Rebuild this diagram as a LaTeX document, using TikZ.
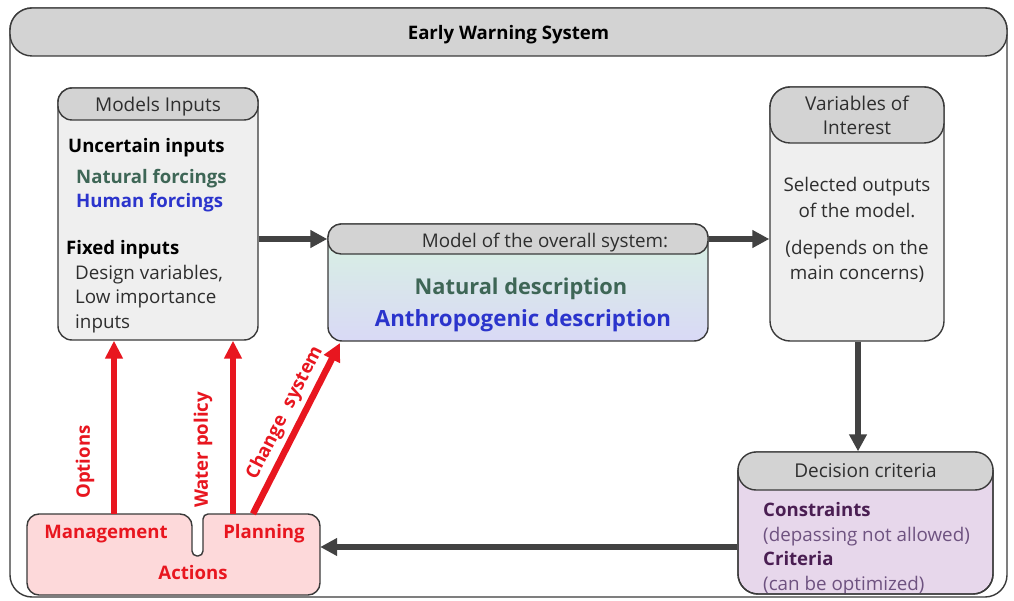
\documentclass[tikz,border=0pt]{standalone}
\usepackage{fontspec}
\setmainfont{Open Sans}
\usetikzlibrary{arrows.meta}
\definecolor{hdr}{HTML}{D3D3D3}
\definecolor{bodyg}{HTML}{EFEFEF}
\definecolor{edge}{HTML}{3A3A3A}
\definecolor{dkarr}{HTML}{424242}
\definecolor{redc}{HTML}{E8161F}
\definecolor{actfill}{HTML}{FDD9DA}
\definecolor{decfill}{HTML}{E7D7EB}
\definecolor{greent}{HTML}{3E6656}
\definecolor{bluet}{HTML}{2B34CC}
\definecolor{purpb}{HTML}{4A1E52}
\definecolor{purpl}{HTML}{6E5280}
\definecolor{grayt}{HTML}{2E2E2E}
\definecolor{topg}{HTML}{D8F3E0}
\definecolor{botb}{HTML}{D9D9F6}
\newcommand{\fs}[1]{\fontsize{#1}{#1}\selectfont}
\begin{document}
\begin{tikzpicture}[x=1pt,y=-1pt,
  box/.style={draw=edge, line width=1.4pt, rounded corners=#1, inner sep=0pt},
  box/.default=14pt,
  hdrbox/.style={draw=edge, line width=1.4pt, fill=hdr, rounded corners=#1, inner sep=0pt, text=grayt, font=\fs{19}, text depth=0pt},
  hdrbox/.default=14pt,
  txt/.style={inner sep=0pt, font=\fs{18.8}, text=grayt, text depth=0pt},
  btxt/.style={inner sep=0pt, font=\fs{18.6}\bfseries, text depth=0pt},
  darr/.style={draw=dkarr, line width=6.5pt, -{Triangle[length=17pt,width=17pt]}},
  rarr/.style={draw=redc, line width=6.5pt, -{Triangle[length=18pt,width=17pt]}},
  rlab/.style={inner sep=0pt, font=\fs{18.6}\bfseries, text=redc}
]
\useasboundingbox (0,0) rectangle (1014,601);
% outer frame
\node[box=22pt, fill=white, minimum width=997pt, minimum height=589pt] (ews) at (508.5,302.5) {};
\node[hdrbox=22pt, minimum width=997pt, minimum height=48pt, font=\fs{18.6}\bfseries, text=black] (ewsh) at (508.5,32) {Early Warning System};

% Models inputs
\node[box, fill=bodyg, minimum width=200pt, minimum height=252pt] (mi) at (158,214) {};
\node[hdrbox, minimum width=200pt, minimum height=32pt] (mih) at (158,104) {Models Inputs};
\node[btxt, anchor=west, text=black] (t1) at (68,145) {Uncertain inputs};
\node[btxt, anchor=west, text=greent] (t2) at (76,176) {Natural forcings};
\node[btxt, anchor=west, text=bluet] (t3) at (76,200) {Human forcings};
\node[btxt, anchor=west, text=black] (t4) at (66,247) {Fixed inputs};
\node[txt, anchor=west] (t5) at (75,272) {Design variables,};
\node[txt, anchor=west] (t6) at (75,297) {Low importance};
\node[txt, anchor=west] (t7) at (75,322) {inputs};

% Model of the overall system
\shade[top color=topg, bottom color=botb, rounded corners=14pt] (328,224) rectangle (708,341);
\node[box, minimum width=380pt, minimum height=117pt] (mo) at (518,282.5) {};
\node[hdrbox=13pt, minimum width=380pt, minimum height=30pt] (moh) at (518,239) {};
\node[txt] (t8) at (545,240) {Model of the overall system:};
\node[btxt, font=\fs{21.8}\bfseries, text=greent] (t9) at (521,286) {Natural description};
\node[btxt, font=\fs{22.3}\bfseries, text=bluet] (t10) at (523,318) {Anthropogenic description};

% Variables of interest
\node[box=20pt, fill=bodyg, minimum width=174pt, minimum height=254pt] (voi) at (857,214) {};
\node[hdrbox=20pt, minimum width=174pt, minimum height=56pt, align=center] (voih) at (857,115) {Variables of\\[5pt]Interest};
\node[txt, align=center] (t11) at (857,197) {Selected outputs\\[6pt]of the model.};
\node[txt, align=center] (t12) at (857,260) {(depends on the\\[6pt]main concerns)};

% Decision criteria
\node[box=20pt, fill=decfill, minimum width=255pt, minimum height=142pt] (dc) at (865.5,523) {};
\node[hdrbox=18pt, minimum width=255pt, minimum height=38pt] (dch) at (865.5,471) {Decision criteria};
\node[btxt, anchor=west, text=purpb] (t13) at (763,509) {Constraints};
\node[txt, anchor=west, text=purpl] (t14) at (763,534) {(depassing not allowed)};
\node[btxt, anchor=west, text=purpb] (t15) at (763,558) {Criteria};
\node[txt, anchor=west, text=purpl] (t16) at (763,583) {(can be optimized)};
\draw[draw=edge, line width=1.4pt, rounded corners=20pt] (738,470) -- (738,594) -- (993,594) -- (993,470);

% Actions
\coordinate (actc) at (173.5,554.5);
\node[inner sep=0pt, minimum width=293pt, minimum height=81pt] (act) at (actc) {};
\draw[draw=edge, line width=1.4pt, fill=actfill, rounded corners=12pt]
  (27,560) -- (27,514) -- (192,514) [rounded corners=5pt] -- (192,556) -- (203,556) -- (203,514) [rounded corners=12pt] -- (320,514) -- (320,595) -- (27,595) -- cycle;
\node[rlab] (t17) at (106,534) {Management};
\node[rlab] (t18) at (264,534) {Planning};
\node[rlab] (t19) at (193,573) {Actions};

% dark arrows
\draw[darr] (mi.east |- moh.west) -- (moh.west);
\draw[darr] (moh.east) -- (voi.west |- moh.east);
\draw[darr] (voi.south -| 858,0) -- (dch.north -| 858,0);
\draw[darr] (dc.west |- 0,547) -- (act.east |- 0,547);

% red arrows
\draw[rarr] (act.north -| 114,0) -- (mi.south -| 114,0);
\draw[rarr] (act.north -| 233,0) -- (mi.south -| 233,0);
\coordinate (cs) at (340,343);
\draw[rarr] (act.north -| 253,0) -- (cs);
\node[rlab, rotate=90] (l1) at (85,462) {Options};
\node[rlab, rotate=90] (l2) at (203,450) {Water policy};
\node[rlab, rotate=63] (l3) at (285,413) {Change\hspace{0.6em}system};
\end{tikzpicture}
\end{document}
